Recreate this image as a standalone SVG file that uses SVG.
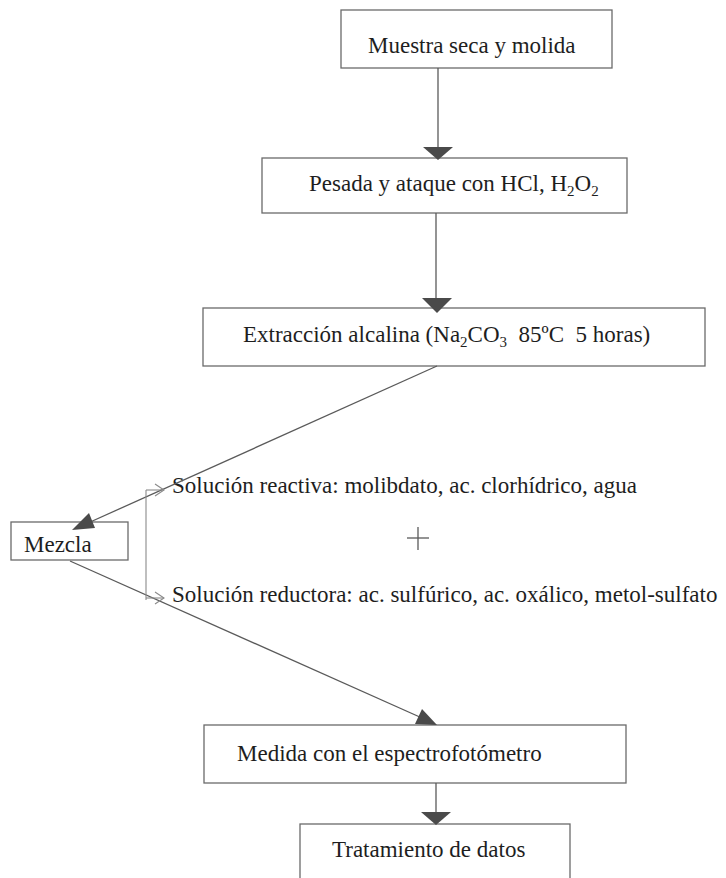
<svg xmlns="http://www.w3.org/2000/svg" width="726" height="878" viewBox="0 0 726 878">
<style>
.box{fill:none;stroke:#6a6a6a;stroke-width:1.3}
.t{font-family:"Liberation Serif","Times New Roman",serif;font-size:23px;fill:#1e1e1e;white-space:pre}
.sub{font-size:15px}
.ln{stroke:#5a5a5a;stroke-width:1.3;fill:none}
.thin{stroke:#8a8a8a;stroke-width:1.1;fill:none}
.ah{fill:#4a4a4a}
</style>
<rect width="726" height="878" fill="#fff"/>
<g id="n1"><rect class="box" x="341" y="10" width="271" height="58"/><text class="t" x="368" y="53">Muestra seca y molida</text></g>
<g id="n2"><rect class="box" x="262" y="158" width="365" height="55"/><text class="t" x="309" y="191">Pesada y ataque con HCl, H<tspan class="sub" dy="5">2</tspan><tspan dy="-5">O</tspan><tspan class="sub" dy="5">2</tspan></text></g>
<g id="n3"><rect class="box" x="203" y="308" width="502" height="58"/><text class="t" x="243" y="342">Extracción alcalina (Na<tspan class="sub" dy="5">2</tspan><tspan dy="-5">CO</tspan><tspan class="sub" dy="5">3</tspan><tspan dy="-5">  85ºC  5 horas)</tspan></text></g>
<g id="mezcla"><rect class="box" x="11" y="522" width="117" height="38"/><text class="t" x="24" y="552">Mezcla</text></g>
<g id="sol1"><text class="t" x="172" y="493">Solución reactiva: molibdato, ac. clorhídrico, agua</text></g>
<g id="plus"><line class="ln" x1="407" y1="538" x2="429" y2="538"/><line class="ln" x1="418" y1="527" x2="418" y2="550"/></g>
<g id="sol2"><text class="t" x="172" y="602">Solución reductora: ac. sulfúrico, ac. oxálico, metol-sulfato</text></g>
<g id="n4"><rect class="box" x="204" y="725" width="422" height="58"/><text class="t" x="237" y="761">Medida con el espectrofotómetro</text></g>
<g id="n5"><rect class="box" x="300" y="824" width="270" height="70"/><text class="t" x="332" y="857">Tratamiento de datos</text></g>
<g id="connectors">
<line class="ln" x1="438" y1="68" x2="438" y2="150"/>
<polygon class="ah" points="423,147 453,147 438,160"/>
<line class="ln" x1="436" y1="213" x2="436" y2="300"/>
<polygon class="ah" points="422,298 452,298 437,313"/>
<line class="ln" x1="437" y1="366" x2="88" y2="523"/>
<polygon class="ah" points="72,530 95,528 89,513"/>
<line class="ln" x1="70" y1="561" x2="422" y2="718"/>
<polygon class="ah" points="437,725 415,724 422,709"/>
<line class="ln" x1="436" y1="783" x2="436" y2="815"/>
<polygon class="ah" points="421,812 451,812 436,825"/>
<line class="thin" x1="146" y1="490" x2="146" y2="600"/>
<line class="thin" x1="146" y1="490" x2="164" y2="490"/>
<polyline class="thin" points="155,484 164,490 155,496"/>
<line class="thin" x1="146" y1="598" x2="164" y2="598"/>
<polyline class="thin" points="155,592 164,598 155,604"/>
</g>
</svg>
